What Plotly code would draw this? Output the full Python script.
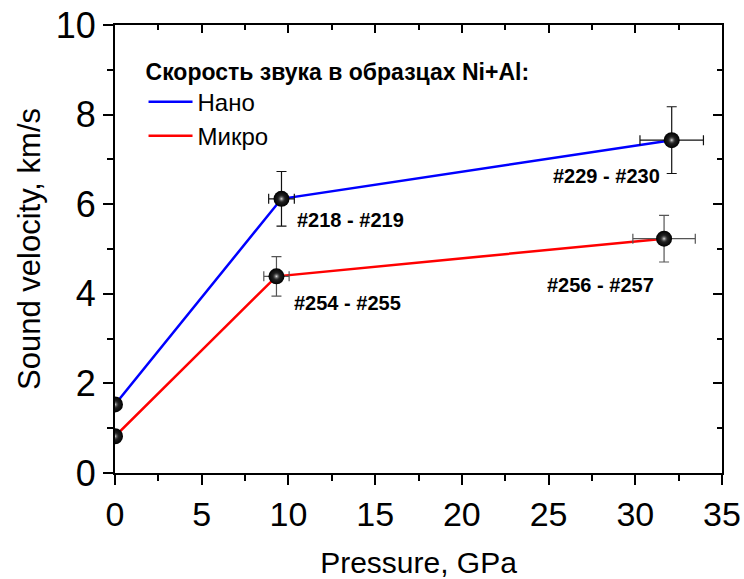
import plotly.graph_objects as go

# ---- data ----
nano_p = [0.0, 9.60, 32.10]
nano_v = [1.53, 6.12, 7.43]
nano_xerr = [0.0, 0.74, 1.83]
nano_yerr = [0.0, 0.61, 0.745]

micro_p = [0.0, 9.31, 31.66]
micro_v = [0.82, 4.39, 5.23]
micro_xerr = [0.0, 0.73, 1.80]
micro_yerr = [0.0, 0.44, 0.52]

label_text = ["#218 - #219", "#254 - #255", "#229 - #230", "#256 - #257"]
label_x = [10.37, 10.18, 25.16, 24.77]
label_y = [5.65, 3.80, 6.62, 4.20]

legend_title = "Скорость звука в образцах Ni+Al:"
series_names = ["Нано", "Микро"]
x_title = "Pressure, GPa"
y_title = "Sound velocity, km/s"

FONT = "Arial, Liberation Sans, sans-serif"

fig = go.Figure()

# lines (legend entries)
fig.add_trace(go.Scatter(x=nano_p, y=nano_v, mode="lines", name=series_names[0],
                         line=dict(color="#0000ff", width=2.5)))
fig.add_trace(go.Scatter(x=micro_p, y=micro_v, mode="lines", name=series_names[1],
                         line=dict(color="#ff0000", width=2.5)))

def pts(x, y, xe, ye, ecol):
    return go.Scatter(
        x=x, y=y, mode="markers", showlegend=False,
        marker=dict(size=16, color="#000000",
                    gradient=dict(type="radial", color="#3a3a3a"),
                    line=dict(width=0)),
        error_x=dict(type="data", array=xe, visible=True, color=ecol, thickness=1.2, width=5),
        error_y=dict(type="data", array=ye, visible=True, color=ecol, thickness=1.2, width=5),
    )

def shine(x, y):
    return go.Scatter(
        x=x, y=y, mode="markers", showlegend=False, hoverinfo="skip",
        marker=dict(size=9, color="rgba(0,0,0,0)",
                    gradient=dict(type="radial", color="#e0e0e0"),
                    line=dict(width=0)),
    )

fig.add_trace(pts(nano_p, nano_v, nano_xerr, nano_yerr, "#111111"))
fig.add_trace(pts(micro_p, micro_v, micro_xerr, micro_yerr, "#555555"))
fig.add_trace(shine(nano_p, nano_v))
fig.add_trace(shine(micro_p, micro_v))

# invisible trace to hold the mirrored (inside-tick) axes
fig.add_trace(go.Scatter(x=[None], y=[None], xaxis="x2", yaxis="y2", showlegend=False,
                         hoverinfo="skip"))

for t, x, y in zip(label_text, label_x, label_y):
    fig.add_annotation(x=x, y=y, text="<b>%s</b>" % t, showarrow=False,
                       xanchor="left", yanchor="middle",
                       font=dict(family=FONT, size=20, color="#000"))

fig.update_layout(
    width=744, height=579,
    margin=dict(l=115, r=22, t=25, b=106),
    paper_bgcolor="white", plot_bgcolor="white",
    font=dict(family=FONT, color="#000"),
    showlegend=True,
    legend=dict(
        x=0.047, y=0.945, xanchor="left", yanchor="top",
        bgcolor="rgba(0,0,0,0)", borderwidth=0,
        itemwidth=44,
        title=dict(text="<b>%s</b>" % legend_title, font=dict(family=FONT, size=23, color="#000")),
        font=dict(family=FONT, size=24, color="#000"),
        tracegroupgap=0,
    ),
    xaxis=dict(
        range=[0, 35], dtick=5, tick0=0, automargin=False,
        showline=True, linewidth=2, linecolor="#000", mirror=True,
        ticks="outside", ticklen=10, tickwidth=2, tickcolor="#000",
        minor=dict(dtick=2.5, ticks="outside", ticklen=6, tickwidth=2, tickcolor="#000"),
        showgrid=False, zeroline=False,
        tickfont=dict(family=FONT, size=34, color="#000"),
        title=dict(text=x_title, font=dict(family=FONT, size=30, color="#000"), standoff=26),
    ),
    yaxis=dict(
        range=[0, 10], dtick=2, tick0=0, automargin=False,
        showline=True, linewidth=2, linecolor="#000", mirror=True,
        ticks="outside", ticklen=10, tickwidth=2, tickcolor="#000",
        minor=dict(dtick=1, ticks="outside", ticklen=6, tickwidth=2, tickcolor="#000"),
        showgrid=False, zeroline=False,
        tickfont=dict(family=FONT, size=36, color="#000"),
        title=dict(text=y_title, font=dict(family=FONT, size=31, color="#000"), standoff=6),
    ),
    xaxis2=dict(
        range=[0, 35], dtick=5, tick0=0, overlaying="x", side="top", anchor="y",
        automargin=False,
        showline=False, showticklabels=False,
        ticks="inside", ticklen=8, tickwidth=2, tickcolor="#000",
        minor=dict(dtick=2.5, ticks="inside", ticklen=5, tickwidth=2, tickcolor="#000"),
        showgrid=False, zeroline=False,
    ),
    yaxis2=dict(
        range=[0, 10], dtick=2, tick0=0, overlaying="y", side="right", anchor="x",
        automargin=False,
        showline=False, showticklabels=False,
        ticks="inside", ticklen=9, tickwidth=2, tickcolor="#000",
        minor=dict(dtick=1, ticks="inside", ticklen=5, tickwidth=2, tickcolor="#000"),
        showgrid=False, zeroline=False,
    ),
)

fig.write_html("out.html")
